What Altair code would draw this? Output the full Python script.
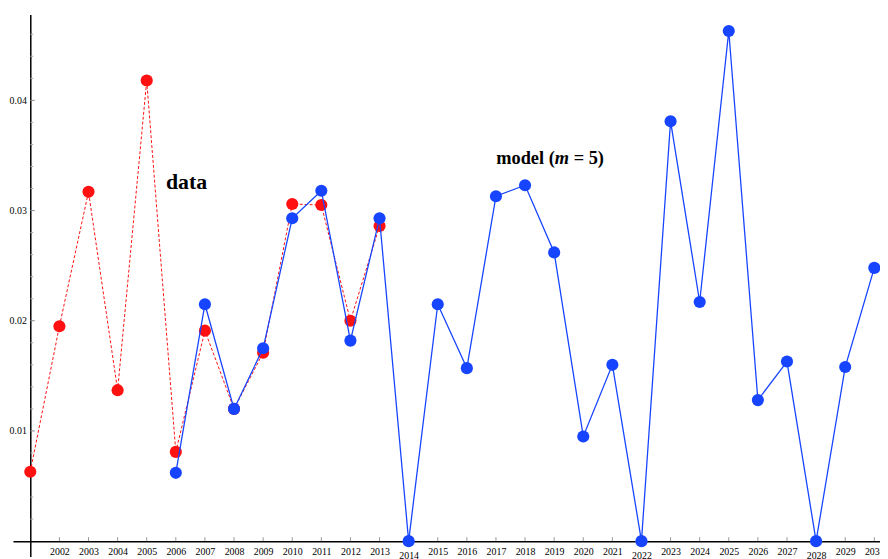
import altair as alt
import pandas as pd

# ---- data ----
data_years = list(range(2001, 2014))
data_values = [0.0063, 0.0195, 0.0317, 0.0137, 0.0418, 0.0081, 0.0191,
               0.0120, 0.0171, 0.0306, 0.0305, 0.0200, 0.0286]

model_years = list(range(2006, 2031))
model_values = [0.0062, 0.0215, 0.0120, 0.0175, 0.0293, 0.0318, 0.0182, 0.0293,
                0.0, 0.0215, 0.0157, 0.0313, 0.0323, 0.0262, 0.0095, 0.0160,
                0.0, 0.0381, 0.0217, 0.0463, 0.0128, 0.0163, 0.0, 0.0158, 0.0248]

x_tick_years = list(range(2002, 2031))
x_lowered_labels = [2014, 2022, 2028]
y_major_ticks = [0.01, 0.02, 0.03, 0.04]
y_minor_ticks = [0.002, 0.004, 0.006, 0.008, 0.012, 0.014, 0.016, 0.018,
                 0.022, 0.024, 0.026, 0.028, 0.032, 0.034, 0.036, 0.038,
                 0.042, 0.044, 0.046]
axis_origin = [2001, 0.0]

ann_text = ["data", "model (", "m", "= 5)"]
ann_x = [2005.66, 2017.01, 2017.01, 2017.01]
ann_y = [0.03194, 0.03422, 0.03422, 0.03422]

RED = "#ff1111"
BLUE = "#1745ff"
FONT = "Liberation Serif"

df_data = pd.DataFrame({"year": data_years, "value": data_values})
df_model = pd.DataFrame({"year": model_years, "value": model_values})
df_xt = pd.DataFrame({"year": x_tick_years})
df_ymaj = pd.DataFrame({"value": y_major_ticks})
df_ymin = pd.DataFrame({"value": y_minor_ticks})

xs = alt.Scale(domain=[2000.404, 2030.196], nice=False, zero=False)
ys = alt.Scale(domain=[-0.001394, 0.047796], nice=False, zero=False)

x_axis = alt.Axis(
    values=x_tick_years, format="d", offset=-15.5, domainColor="black",
    domainWidth=1.5, ticks=False, labelFont=FONT, labelFontSize=10,
    labelColor="black",
    labelPadding={"condition": {"test": "indexof(%s, datum.value) >= 0" % x_lowered_labels,
                                "value": 10}, "value": 5},
    title=None, grid=False, labelFlush=False, labelOverlap=False, labelBound=False)
y_axis = alt.Axis(
    values=y_major_ticks, format=".2f", offset=-17.5, domainColor="black",
    domainWidth=1.5, ticks=False, labelFont=FONT, labelFontSize=10,
    labelColor="black", labelPadding=4, title=None, grid=False)

X = lambda f: alt.X(f, scale=xs, axis=x_axis)
Y = lambda f: alt.Y(f, scale=ys, axis=y_axis)

red_line = alt.Chart(df_data).mark_line(color=RED, strokeDash=[3, 2], strokeWidth=1).encode(
    x=X("year:Q"), y=Y("value:Q"))
red_pts = alt.Chart(df_data).mark_circle(color=RED, size=150, opacity=1).encode(
    x=X("year:Q"), y=Y("value:Q"))
blue_line = alt.Chart(df_model).mark_line(color=BLUE, strokeWidth=1.3).encode(
    x=X("year:Q"), y=Y("value:Q"))
blue_pts = alt.Chart(df_model).mark_circle(color=BLUE, size=150, opacity=1).encode(
    x=X("year:Q"), y=Y("value:Q"))

xticks = alt.Chart(df_xt).mark_rule(color="#999999", strokeWidth=1, y2Offset=-4).encode(
    x=X("year:Q"),
    y=alt.datum(axis_origin[1], scale=ys, axis=y_axis), y2=alt.datum(axis_origin[1]))
ymaj = alt.Chart(df_ymaj).mark_rule(color="#888888", strokeWidth=1, x2Offset=4.5).encode(
    y=Y("value:Q"),
    x=alt.datum(axis_origin[0], scale=xs, axis=x_axis), x2=alt.datum(axis_origin[0]))
ymin = alt.Chart(df_ymin).mark_rule(color="#aaaaaa", strokeWidth=1, x2Offset=3).encode(
    y=Y("value:Q"),
    x=alt.datum(axis_origin[0], scale=xs, axis=x_axis), x2=alt.datum(axis_origin[0]))

def label(i, size, style="normal", dx=0):
    d = pd.DataFrame({"t": [ann_text[i]], "year": [ann_x[i]], "value": [ann_y[i]]})
    return alt.Chart(d).mark_text(font=FONT, fontSize=size, fontWeight="bold",
                                  fontStyle=style, align="left", baseline="alphabetic",
                                  dx=dx, color="black").encode(
        x=X("year:Q"), y=Y("value:Q"), text="t:N")

t_data = label(0, 22)
t_m1 = label(1, 18.5)
t_m2 = label(2, 18.5, "italic", 59.1)
t_m3 = label(3, 18.5, "normal", 78.1)

chart = alt.layer(
    red_line, xticks, ymaj, ymin, red_pts, blue_line, blue_pts,
    t_data, t_m1, t_m2, t_m3
).properties(
    width=875, height=547,
    autosize=alt.AutoSizeParams(type="none"),
    padding={"left": 5, "top": 4, "right": 0, "bottom": 0},
    background="white",
).configure_view(stroke=None)

chart.save("out.html", embed_options={"renderer": "svg", "actions": False})
